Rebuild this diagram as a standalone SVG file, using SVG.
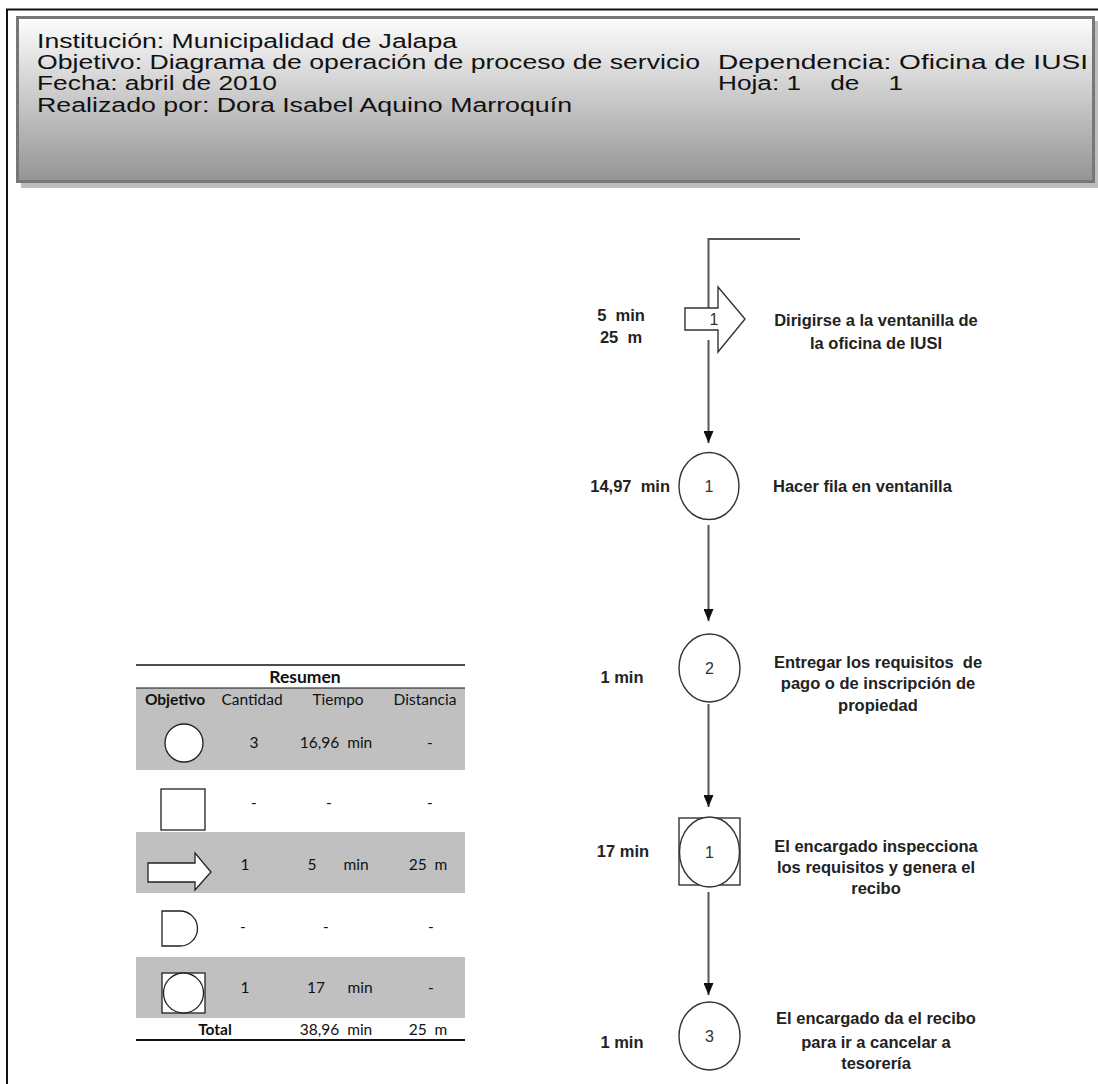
<svg xmlns="http://www.w3.org/2000/svg" width="1098" height="1084" viewBox="0 0 1098 1084">
  <defs>
    <linearGradient id="hdrFill" x1="0" y1="0" x2="0" y2="1">
      <stop offset="0" stop-color="#fdfdfd"/>
      <stop offset="1" stop-color="#949494"/>
    </linearGradient>
    <marker id="arrowHead" viewBox="0 0 12 10" refX="12" refY="5" markerWidth="12" markerHeight="10" markerUnits="userSpaceOnUse" orient="auto">
      <path d="M0,0 L12,5 L0,10 Z" fill="#111"/>
    </marker>
    <style>
      .hdr { font-family: "Liberation Sans", Arial, sans-serif; font-size: 20px; fill: #111; }
      .lbl { font-family: "Liberation Sans", Arial, sans-serif; font-size: 16.5px; font-weight: bold; fill: #222; }
      .num { font-family: "Liberation Sans", Arial, sans-serif; font-size: 16px; fill: #333; text-anchor: middle; }
      .shape { fill: #fff; stroke: #333; stroke-width: 1.4; }
      .conn { fill: none; stroke: #555; stroke-width: 2; }
      .tbl { font-family: Lato, "Open Sans", sans-serif; font-size: 15.5px; fill: #111; text-anchor: middle; }
      .tblb { font-weight: bold; }
      .ttl { font-size: 17.5px; }
      .row { fill: #c0c0c0; }
      .sym { fill: #fff; stroke: #222; stroke-width: 1.3; }
    </style>
  </defs>

  <rect width="1098" height="1084" fill="#fff"/>

  <!-- page frame -->
  <g id="frame">
    <line x1="6" y1="9.5" x2="1098" y2="9.5" stroke="#111" stroke-width="2"/>
    <line x1="7" y1="9" x2="7" y2="1084" stroke="#111" stroke-width="2"/>
  </g>

  <!-- title block -->
  <g id="header">
    <rect x="21" y="21" width="1077" height="167" fill="#bdbdbd"/>
    <rect x="17.5" y="17.5" width="1076" height="164" fill="url(#hdrFill)" stroke="#777" stroke-width="3"/>
    <text class="hdr" x="37" y="48" textLength="420" lengthAdjust="spacingAndGlyphs">Institución: Municipalidad de Jalapa</text>
    <text class="hdr" x="37" y="69" textLength="663" lengthAdjust="spacingAndGlyphs">Objetivo: Diagrama de operación de proceso de servicio</text>
    <text class="hdr" x="718" y="69" textLength="370" lengthAdjust="spacingAndGlyphs">Dependencia: Oficina de IUSI</text>
    <text class="hdr" x="37" y="90" textLength="240" lengthAdjust="spacingAndGlyphs">Fecha: abril de 2010</text>
    <text class="hdr" x="718" y="90" xml:space="preserve" textLength="185" lengthAdjust="spacingAndGlyphs">Hoja: 1    de    1</text>
    <text class="hdr" x="37" y="112" textLength="535" lengthAdjust="spacingAndGlyphs">Realizado por: Dora Isabel Aquino Marroquín</text>
  </g>

  <!-- connectors -->
  <g id="connectors">
    <polyline class="conn" points="800,239 708.5,239 708.5,308"/>
    <line class="conn" x1="708.5" y1="340" x2="708.5" y2="443" marker-end="url(#arrowHead)"/>
    <line class="conn" x1="708.5" y1="525" x2="708.5" y2="621" marker-end="url(#arrowHead)"/>
    <line class="conn" x1="708.5" y1="704" x2="708.5" y2="807" marker-end="url(#arrowHead)"/>
    <line class="conn" x1="708.5" y1="892" x2="708.5" y2="995" marker-end="url(#arrowHead)"/>
  </g>

  <!-- transport: walk to the IUSI window -->
  <g id="step-transport-1">
    <polygon class="shape" points="685,308 718,308 718,287 745,319 718,352 718,330 685,330"/>
    <text class="num" x="714" y="325">1</text>
    <text class="lbl" x="621" y="321" text-anchor="middle" xml:space="preserve">5  min</text>
    <text class="lbl" x="621" y="343" text-anchor="middle" xml:space="preserve">25  m</text>
    <text class="lbl" x="876" y="326" text-anchor="middle">Dirigirse a la ventanilla de</text>
    <text class="lbl" x="876" y="349" text-anchor="middle">la oficina de IUSI</text>
  </g>

  <!-- operation 1 -->
  <g id="step-op-1">
    <ellipse class="shape" cx="709" cy="486" rx="30" ry="33.5"/>
    <text class="num" x="709" y="492">1</text>
    <text class="lbl" x="670" y="492" text-anchor="end" xml:space="preserve">14,97  min</text>
    <text class="lbl" x="773" y="492">Hacer fila en ventanilla</text>
  </g>

  <!-- operation 2 -->
  <g id="step-op-2">
    <ellipse class="shape" cx="709.5" cy="668" rx="30.5" ry="34"/>
    <text class="num" x="709.5" y="674">2</text>
    <text class="lbl" x="622" y="683" text-anchor="middle">1 min</text>
    <text class="lbl" x="878" y="668" text-anchor="middle" xml:space="preserve">Entregar los requisitos  de</text>
    <text class="lbl" x="878" y="689" text-anchor="middle">pago o de inscripción de</text>
    <text class="lbl" x="878" y="711" text-anchor="middle">propiedad</text>
  </g>

  <!-- combined inspection / operation -->
  <g id="step-insp-op-1">
    <rect class="shape" x="679" y="818" width="61" height="67"/>
    <ellipse class="shape" cx="709.5" cy="852" rx="30" ry="35"/>
    <text class="num" x="709.5" y="858">1</text>
    <text class="lbl" x="623" y="857" text-anchor="middle">17 min</text>
    <text class="lbl" x="876" y="852" text-anchor="middle">El encargado inspecciona</text>
    <text class="lbl" x="876" y="873" text-anchor="middle">los requisitos y genera el</text>
    <text class="lbl" x="876" y="894" text-anchor="middle">recibo</text>
  </g>

  <!-- operation 3 -->
  <g id="step-op-3">
    <ellipse class="shape" cx="709.5" cy="1036" rx="30.5" ry="34"/>
    <text class="num" x="709.5" y="1042">3</text>
    <text class="lbl" x="622" y="1048" text-anchor="middle">1 min</text>
    <text class="lbl" x="876" y="1024" text-anchor="middle">El encargado da el recibo</text>
    <text class="lbl" x="876" y="1048" text-anchor="middle">para ir a cancelar a</text>
    <text class="lbl" x="876" y="1069" text-anchor="middle">tesorería</text>
  </g>

  <!-- summary table -->
  <g id="summary">
    <rect class="row" x="136" y="688" width="329" height="82"/>
    <rect class="row" x="136" y="832" width="329" height="61"/>
    <rect class="row" x="136" y="957" width="329" height="61"/>
    <line x1="136" y1="665" x2="465" y2="665" stroke="#111" stroke-width="1.5"/>
    <line x1="136" y1="688" x2="465" y2="688" stroke="#111" stroke-width="1"/>
    <line x1="136" y1="1040" x2="465" y2="1040" stroke="#111" stroke-width="2"/>

    <text class="tbl tblb ttl" x="305" y="683">Resumen</text>
    <text class="tbl tblb" x="175" y="705">Objetivo</text>
    <text class="tbl" x="252" y="705">Cantidad</text>
    <text class="tbl" x="338" y="705">Tiempo</text>
    <text class="tbl" x="425" y="705">Distancia</text>

    <circle class="sym" cx="184" cy="743" r="19"/>
    <text class="tbl" x="254" y="748">3</text>
    <text class="tbl" x="336" y="748" xml:space="preserve">16,96  min</text>
    <text class="tbl" x="430" y="748">-</text>

    <rect class="sym" x="161" y="789" width="44" height="41"/>
    <text class="tbl" x="254" y="808">-</text>
    <text class="tbl" x="329" y="808">-</text>
    <text class="tbl" x="430" y="808">-</text>

    <polygon class="sym" points="148,863 195,863 195,853 211,872 195,890 195,882 148,882"/>
    <text class="tbl" x="245" y="870">1</text>
    <text class="tbl" x="312" y="870">5</text>
    <text class="tbl" x="356" y="870">min</text>
    <text class="tbl" x="428" y="870" xml:space="preserve">25  m</text>

    <path class="sym" d="M162,911 L180,911 A17.5,17.5 0 0 1 180,946 L162,946 Z"/>
    <text class="tbl" x="243" y="932">-</text>
    <text class="tbl" x="326" y="932">-</text>
    <text class="tbl" x="431" y="932">-</text>

    <rect class="sym" x="162" y="973" width="43" height="40"/>
    <circle class="sym" cx="183.5" cy="993" r="20"/>
    <text class="tbl" x="245" y="993">1</text>
    <text class="tbl" x="316" y="993">17</text>
    <text class="tbl" x="360" y="993">min</text>
    <text class="tbl" x="431" y="993">-</text>

    <text class="tbl tblb" x="215" y="1035">Total</text>
    <text class="tbl" x="336" y="1035" xml:space="preserve">38,96  min</text>
    <text class="tbl" x="428" y="1035" xml:space="preserve">25  m</text>
  </g>
</svg>
